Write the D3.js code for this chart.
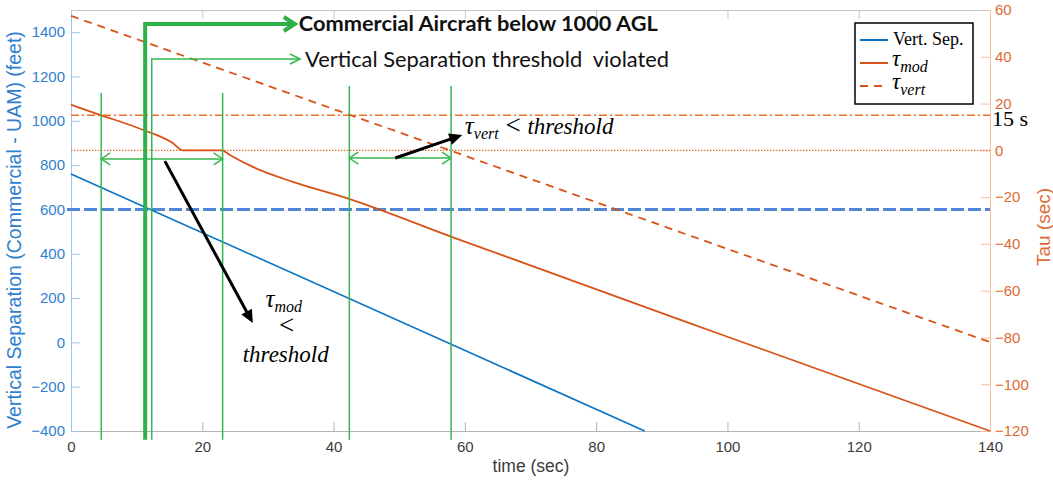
<!DOCTYPE html>
<html><head><meta charset="utf-8">
<script src="https://cdn.jsdelivr.net/npm/d3@7"></script>
<style>body{margin:0;background:#fff}svg{display:block}</style>
</head><body>
<svg id="c" width="1053" height="480"></svg>
<script>
// ---- data ----
const timeTicks=[0,20,40,60,80,100,120,140];
const sepTicks=[-400,-200,0,200,400,600,800,1000,1200,1400];
const tauTicks=[-120,-100,-80,-60,-40,-20,0,20,40,60];
const vertSepTime=[0,87.4];
const vertSepFeet=[760,-400];
const tauModTime=[0,4.4,11,15.5,17,23,24.2,27.7,33.8,42,58.5,100,140];
const tauModSec=[19.5,15.2,8.7,3.1,0,0,-2.0,-7.1,-13.5,-20.4,-37.5,-79.7,-120];
const tauVertTime=[0,140];
const tauVertSec=[57.5,-82];
const sepThreshold=600;
const tauThreshold=15;
const tauZero=0;
// annotations (time, feet)
const windowTimes=[4.6,23.1,42.4,57.9];
const windowTopFeet=[1125,1125,1157,1157];
const windowSpans=[[4.6,23.1,828],[42.4,57.9,832]];
const aglTime=11.3, aglTopFeet=1437, aglArrowEnd=34.1;
const violTime=12.3, violTopFeet=1279, violArrowEnd=34.9;
const annotBottomFeet=-440;
const pointerMod=[[14.3,818],[27.7,87]];
const pointerVert=[[49.4,832],[59.6,936]];
const modLabel=[32.4,160];
const vertLabel=[60.0,940];
const legendNames=["Vert. Sep.","mod","vert"];

// ---- layout ----
const svg=d3.select("#c");
const L=71,R=990,T=10,B=431;
const x=d3.scaleLinear().domain([0,140]).range([L,R]);
const yL=d3.scaleLinear().domain([-400,1500]).range([B,T]);
const yR=d3.scaleLinear().domain([-120,60]).range([B,T]);
const BLUE="#0a74c4", ORANGE="#D95319", GREEN="#34b84f", GREEN2="#2eb04a";
const sans="'Liberation Sans', Arial, sans-serif";
const serif="'Liberation Serif', 'Times New Roman', serif";

// axes
function styleAxis(g,line,txt){
  g.selectAll("path").attr("stroke",line).attr("stroke-width",1);
  g.selectAll("line").attr("stroke",line).attr("stroke-width",1);
  g.selectAll("text").attr("fill",txt).style("font-family",sans).style("font-size","15px");
}
const fmt=d3.format("d");
const gx=svg.append("g").attr("transform",`translate(0,${B})`)
  .call(d3.axisBottom(x).tickValues(timeTicks).tickFormat(fmt).tickSizeInner(-9).tickSizeOuter(0).tickPadding(10));
styleAxis(gx,"#b4b4b4","#3c3c3c");
const gt=svg.append("g").attr("transform",`translate(0,${T})`)
  .call(d3.axisTop(x).tickValues(timeTicks).tickSizeInner(-9).tickSizeOuter(0).tickFormat(""));
styleAxis(gt,"#c4c4c4","#3c3c3c");
const gl=svg.append("g").attr("transform",`translate(${L},0)`)
  .call(d3.axisLeft(yL).tickValues(sepTicks).tickFormat(fmt).tickSizeInner(-9).tickSizeOuter(0).tickPadding(6));
styleAxis(gl,"#9cc4ec","#2f7fcf");
const gr=svg.append("g").attr("transform",`translate(${R},0)`)
  .call(d3.axisRight(yR).tickValues(tauTicks).tickFormat(fmt).tickSizeInner(-9).tickSizeOuter(0).tickPadding(5));
styleAxis(gr,"#f5bfa2","#de6a33");

// axis titles
svg.append("text").attr("transform",`translate(21,230) rotate(-90)`).attr("text-anchor","middle")
  .style("font-family",sans).style("font-size","19.5px").attr("fill","#2f7fcf")
  .text("Vertical Separation (Commercial - UAM) (feet)");
svg.append("text").attr("transform",`translate(1050,227) rotate(-90)`).attr("text-anchor","middle")
  .style("font-family",sans).style("font-size","19px").attr("fill","#de6a33")
  .text("Tau (sec)");
svg.append("text").attr("x",531).attr("y",472).attr("text-anchor","middle")
  .style("font-family",sans).style("font-size","17.5px").attr("fill","#3c3c3c")
  .text("time (sec)");

// threshold lines
svg.append("line").attr("x1",x(0)).attr("x2",x(140)).attr("y1",yR(tauThreshold)).attr("y2",yR(tauThreshold))
  .attr("stroke","#f0702e").attr("stroke-width",1.6).attr("stroke-dasharray","8,3,2,3");
svg.append("line").attr("x1",x(0)).attr("x2",x(140)).attr("y1",yR(tauZero)).attr("y2",yR(tauZero))
  .attr("stroke","#ea6a2c").attr("stroke-width",1.4).attr("stroke-dasharray","1.4,1.6");
svg.append("line").attr("x1",x(0)-4).attr("x2",x(140)).attr("y1",yL(sepThreshold)).attr("y2",yL(sepThreshold))
  .attr("stroke","#4f86d6").attr("stroke-width",3).attr("stroke-dasharray","13,4");

// series
const lineL=d3.line().x(d=>x(d[0])).y(d=>yL(d[1]));
const lineR=d3.line().x(d=>x(d[0])).y(d=>yR(d[1]));
const lineRs=d3.line().x(d=>x(d[0])).y(d=>yR(d[1])).curve(d3.curveMonotoneX);
svg.append("path").attr("d",lineL(d3.zip(vertSepTime,vertSepFeet))).attr("fill","none").attr("stroke",BLUE).attr("stroke-width",1.6);
svg.append("path").attr("d",lineRs(d3.zip(tauModTime,tauModSec))).attr("fill","none").attr("stroke",ORANGE).attr("stroke-width",1.8);
svg.append("path").attr("d",lineR(d3.zip(tauVertTime,tauVertSec))).attr("fill","none").attr("stroke",ORANGE).attr("stroke-width",1.8).attr("stroke-dasharray","8,6");

// green annotations
function chev(px,py,dir,len,half){return `M${px-dir*len},${py-half}L${px},${py}L${px-dir*len},${py+half}`;}
windowTimes.forEach((t,i)=>{
  svg.append("line").attr("x1",x(t)).attr("x2",x(t)).attr("y1",yL(windowTopFeet[i])).attr("y2",yL(annotBottomFeet))
    .attr("stroke",GREEN).attr("stroke-width",1.5);
});
windowSpans.forEach(s=>{
  const y=yL(s[2]);
  svg.append("line").attr("x1",x(s[0])).attr("x2",x(s[1])).attr("y1",y).attr("y2",y).attr("stroke",GREEN).attr("stroke-width",1.5);
  svg.append("path").attr("d",chev(x(s[0]),y,-1,9,6)).attr("fill","none").attr("stroke",GREEN).attr("stroke-width",1.5);
  svg.append("path").attr("d",chev(x(s[1]),y,1,9,6)).attr("fill","none").attr("stroke",GREEN).attr("stroke-width",1.5);
});
// thin violated arrow
{
  const y=yL(violTopFeet);
  svg.append("path").attr("d",`M${x(violTime)},${yL(annotBottomFeet)}L${x(violTime)},${y}L${x(violArrowEnd)},${y}`)
    .attr("fill","none").attr("stroke",GREEN).attr("stroke-width",1.5);
  svg.append("path").attr("d",chev(x(violArrowEnd),y,1,10,5)).attr("fill","none").attr("stroke",GREEN).attr("stroke-width",1.5);
  svg.append("text").attr("x",x(violArrowEnd)+5).attr("y",y+8).attr("textLength",364).attr("lengthAdjust","spacingAndGlyphs")
    .style("font-family","Lato, 'Open Sans', sans-serif").style("font-size","21px").style("white-space","pre").attr("fill","#111")
    .text("Vertical Separation threshold  violated");
}
// thick AGL arrow
{
  const y=yL(aglTopFeet);
  svg.append("path").attr("d",`M${x(aglTime)},${yL(annotBottomFeet)}L${x(aglTime)},${y}L${x(aglArrowEnd)-3},${y}`)
    .attr("fill","none").attr("stroke",GREEN2).attr("stroke-width",4).attr("stroke-linejoin","miter");
  svg.append("path").attr("d",chev(x(aglArrowEnd),y,1,11,7)).attr("fill","none").attr("stroke",GREEN2).attr("stroke-width",4).attr("stroke-linejoin","miter");
  svg.append("text").attr("x",x(aglArrowEnd)+4).attr("y",y+7).attr("textLength",359).attr("lengthAdjust","spacingAndGlyphs")
    .style("font-family","Lato, 'Open Sans', sans-serif").style("font-size","21px").style("font-weight","bold").attr("fill","#111")
    .text("Commercial Aircraft below 1000 AGL");
}

// black pointers
function pointer(p){
  const x1=x(p[0][0]),y1=yL(p[0][1]),x2=x(p[1][0]),y2=yL(p[1][1]);
  const dx=x2-x1,dy=y2-y1,len=Math.hypot(dx,dy),ux=dx/len,uy=dy/len;
  const hl=13,hw=6;
  const bx=x2-ux*hl,by=y2-uy*hl;
  svg.append("line").attr("x1",x1).attr("y1",y1).attr("x2",bx+ux*2).attr("y2",by+uy*2).attr("stroke","#000").attr("stroke-width",3);
  svg.append("path").attr("d",`M${x2},${y2}L${bx-uy*hw},${by+ux*hw}L${bx+uy*hw},${by-ux*hw}Z`).attr("fill","#000");
}
pointer(pointerMod);
pointer(pointerVert);

// math labels
{
  const cx=x(modLabel[0]), by=yL(modLabel[1]);
  const t1=svg.append("text").attr("x",cx).attr("y",by).attr("text-anchor","middle").style("font-family",serif).attr("fill","#000");
  t1.append("tspan").style("font-size","25px").style("font-style","italic").text("τ");
  t1.append("tspan").style("font-size","16px").style("font-style","italic").attr("dy",5).text("mod");
  svg.append("text").attr("x",cx+3).attr("y",by+27).attr("text-anchor","middle").style("font-family",serif).style("font-size","27px").attr("fill","#000").text("<");
  svg.append("text").attr("x",cx+2).attr("y",by+55).attr("text-anchor","middle").style("font-family",serif).style("font-size","23px").style("font-style","italic").attr("fill","#000").text("threshold");
}
{
  const sx=x(vertLabel[0]), by=yL(vertLabel[1]);
  const t2=svg.append("text").attr("x",sx).attr("y",by).style("font-family",serif).attr("fill","#000").style("white-space","pre");
  t2.append("tspan").style("font-size","25px").style("font-style","italic").text("τ");
  t2.append("tspan").style("font-size","16px").style("font-style","italic").attr("dy",5).text("vert");
  t2.append("tspan").style("font-size","27px").attr("dy",-5).text(" < ");
  t2.append("tspan").style("font-size","23px").style("font-style","italic").text("threshold");
}
// 15 s label
svg.append("text").attr("x",R+2).attr("y",yR(tauThreshold)+11).style("font-family",serif).style("font-size","22px").attr("fill","#000").text("15 s");

// legend
{
  const lx=855, ly=23, lw=118, lh=81;
  const g=svg.append("g");
  g.append("rect").attr("x",lx).attr("y",ly).attr("width",lw).attr("height",lh).attr("fill","#fff").attr("stroke","#000").attr("stroke-width",1.5);
  const rows=[{y:40,c:BLUE,d:null},{y:63,c:ORANGE,d:null},{y:86,c:ORANGE,d:"8,6"}];
  rows.forEach((r,i)=>{
    g.append("line").attr("x1",lx+5).attr("x2",lx+33).attr("y1",r.y).attr("y2",r.y).attr("stroke",r.c).attr("stroke-width",2).attr("stroke-dasharray",r.d);
  });
  g.append("text").attr("x",lx+38).attr("y",45).style("font-family",serif).style("font-size","18px").attr("fill","#000").text(legendNames[0]);
  [1,2].forEach(i=>{
    const t=g.append("text").attr("x",lx+37).attr("y",rows[i].y+3).style("font-family",serif).attr("fill","#000");
    t.append("tspan").style("font-size","23px").style("font-style","italic").text("τ");
    t.append("tspan").style("font-size","16px").style("font-style","italic").attr("dy",6).text(legendNames[i]);
  });
}
</script>
</body></html>
